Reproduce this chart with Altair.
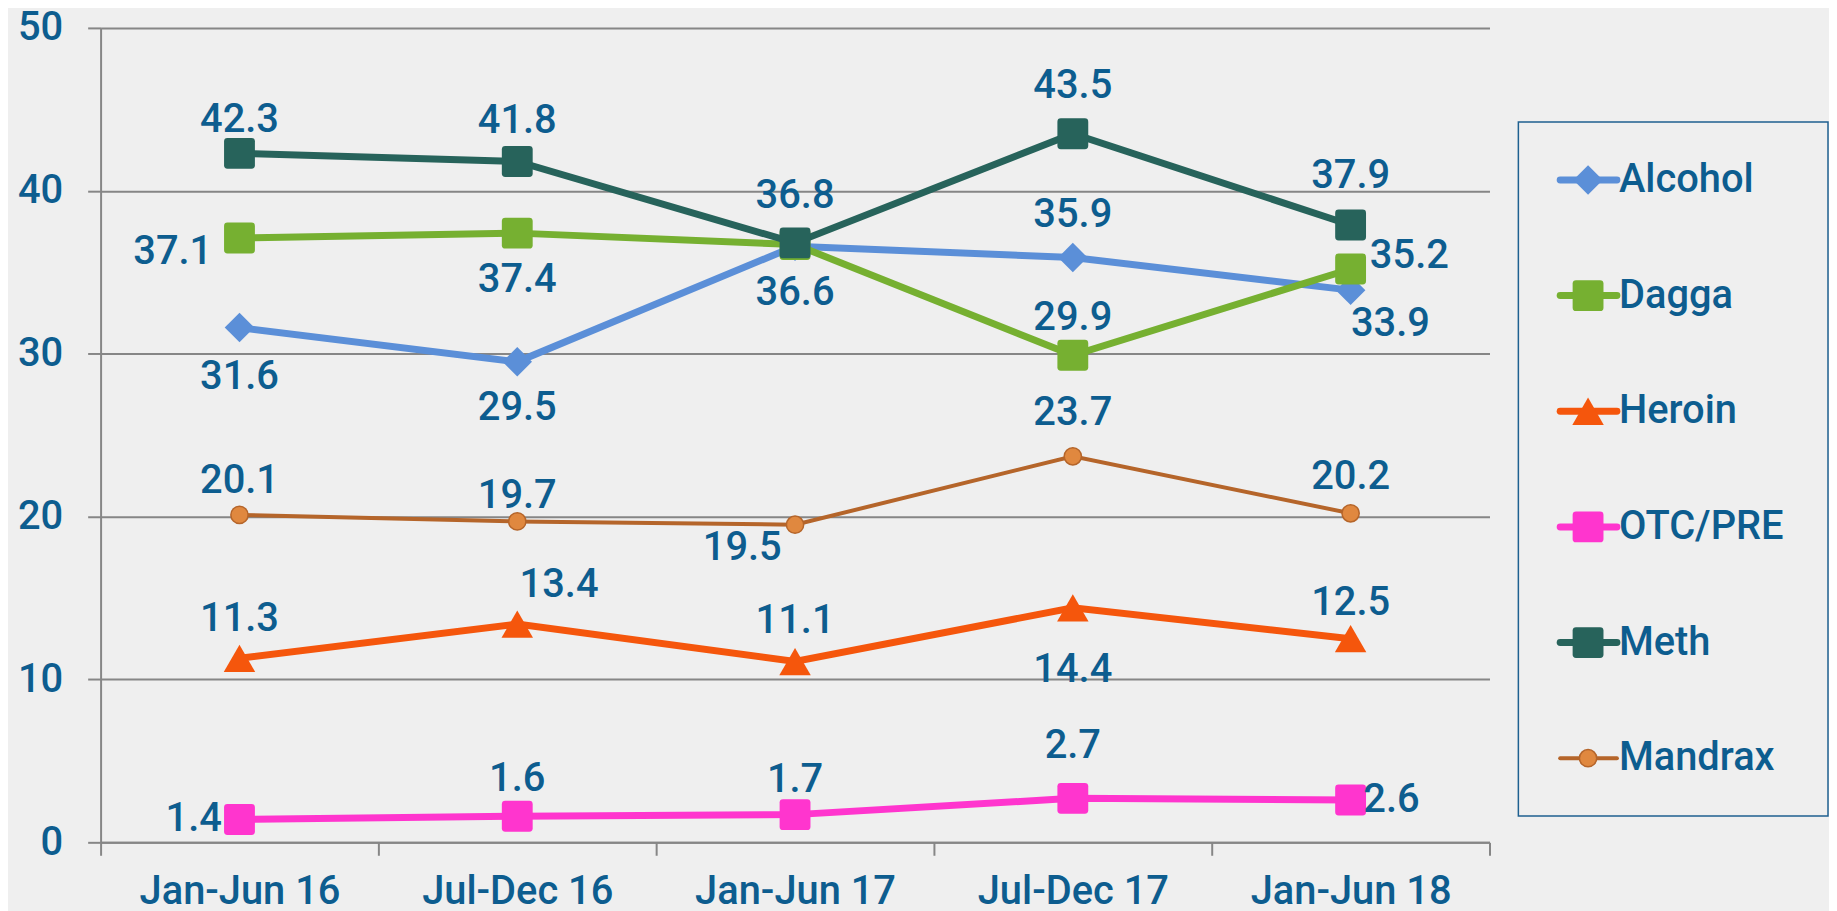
import altair as alt
import pandas as pd

# ---------------- data ----------------
periods = ["Jan-Jun 16", "Jul-Dec 16", "Jan-Jun 17", "Jul-Dec 17", "Jan-Jun 18"]
series_names = ["Alcohol", "Dagga", "Heroin", "OTC/PRE", "Meth", "Mandrax"]

alcohol = [31.6, 29.5, 36.6, 35.9, 33.9]
dagga = [37.1, 37.4, 36.7, 29.9, 35.2]
heroin = [11.3, 13.4, 11.1, 14.4, 12.5]
otc_pre = [1.4, 1.6, 1.7, 2.7, 2.6]
meth = [42.3, 41.8, 36.8, 43.5, 37.9]
mandrax = [20.1, 19.7, 19.5, 23.7, 20.2]

values = {
    "Alcohol": alcohol,
    "Dagga": dagga,
    "Heroin": heroin,
    "OTC/PRE": otc_pre,
    "Meth": meth,
    "Mandrax": mandrax,
}

rows = []
for s in series_names:
    for p, v in zip(periods, values[s]):
        rows.append({"series": s, "period": p, "value": v})
df = pd.DataFrame(rows)

# ---------------- styles ----------------
LABEL_COLOR = "#0D5D8F"
GRID_COLOR = "#868686"
BG = "#EFEFEF"
FONT = "Roboto"
FS = 40
FW = 500

ROUND_SQUARE = ("M -0.78 -1 L 0.78 -1 Q 1 -1 1 -0.78 L 1 0.78 Q 1 1 0.78 1 "
                "L -0.78 1 Q -1 1 -1 0.78 L -1 -0.78 Q -1 -1 -0.78 -1 Z")

styles = {
    "Alcohol": dict(color="#5B8FD8", shape="diamond", size=880, width=7),
    "Dagga": dict(color="#76B031", shape=ROUND_SQUARE, size=960, width=7),
    "Heroin": dict(color="#F5560C", shape="triangle-up", size=1000, width=7),
    "OTC/PRE": dict(color="#FF35CE", shape=ROUND_SQUARE, size=960, width=7),
    "Meth": dict(color="#27635B", shape=ROUND_SQUARE, size=960, width=7),
    "Mandrax": dict(color="#B5652A", shape="circle", size=300, width=4,
                    fill="#E0883F"),
}

# label offsets (dx, dy) in pixels relative to the point, None = no label
label_offsets = {
    "Alcohol": [(0, 50), (0, 46), (0, 47), (0, -43), (40, 34)],
    "Dagga": [(-67, 14), (0, 47), None, (0, -37), (59, -13)],
    "Heroin": [(0, -39), (42, -39), (0, -41), (0, 63), (0, -36)],
    "OTC/PRE": [(-46, 0), (0, -37), (0, -35), (0, -53), (41, 0)],
    "Meth": [(0, -33), (0, -41), (0, -47), (0, -48), (0, -49)],
    "Mandrax": [(0, -34), (0, -26), (-53, 23), (0, -43), (0, -36)],
}

x_enc = alt.X(
    "period:N",
    sort=periods,
    bandPosition=0.5,
    scale=alt.Scale(type="band", domain=periods, paddingInner=0, paddingOuter=0),
    axis=alt.Axis(
        title=None,
        tickBand="extent",
        labelFont=FONT,
        labelFontSize=FS,
        labelFontWeight=FW,
        labelColor=LABEL_COLOR,
        labelPadding=16,
        labelAngle=0,
        labelLimit=1000,
        tickSize=13,
        tickColor=GRID_COLOR,
        tickWidth=2,
        domainColor=GRID_COLOR,
        domainWidth=2,
        grid=False,
    ),
)
y_enc = alt.Y(
    "value:Q",
    scale=alt.Scale(domain=[0, 50], nice=False, zero=True),
    axis=alt.Axis(
        title=None,
        values=[0, 10, 20, 30, 40, 50],
        labelFont=FONT,
        labelFontSize=FS,
        labelFontWeight=FW,
        labelColor=LABEL_COLOR,
        labelPadding=25,
        tickSize=13,
        tickColor=GRID_COLOR,
        tickWidth=2,
        domainColor=GRID_COLOR,
        domainWidth=2,
        grid=True,
        gridColor=GRID_COLOR,
        gridWidth=2,
    ),
)

base = alt.Chart(df).encode(x=x_enc, y=y_enc)

layers = []
for s in series_names:
    st = styles[s]
    sub = base.transform_filter(alt.datum.series == s)
    layers.append(sub.mark_line(color=st["color"], strokeWidth=st["width"]))
    if s == "Mandrax":
        layers.append(sub.mark_point(shape=st["shape"], size=st["size"], filled=True,
                                     fill=st["fill"], stroke=st["color"], strokeWidth=1.5,
                                     opacity=1))
    else:
        layers.append(sub.mark_point(shape=st["shape"], size=st["size"], filled=True,
                                     color=st["color"], opacity=1))

for s in series_names:
    for p, off in zip(periods, label_offsets[s]):
        if off is None:
            continue
        layers.append(
            base.transform_filter((alt.datum.series == s) & (alt.datum.period == p))
            .mark_text(font=FONT, fontSize=FS, fontWeight=FW, color=LABEL_COLOR,
                       align="center", baseline="middle", dx=off[0], dy=off[1])
            .encode(text=alt.Text("value:Q", format=".1f"))
        )

main = alt.layer(*layers).properties(width=1395, height=818)

# ---------------- legend panel ----------------
leg_df = pd.DataFrame({"series": series_names})
leg_y = alt.Y("series:N", sort=series_names, axis=None,
              scale=alt.Scale(type="point", domain=series_names, padding=0.5))
leg_base = alt.Chart(leg_df).encode(y=leg_y)
leg_layers = []
for s in series_names:
    st = styles[s]
    sub = leg_base.transform_filter(alt.datum.series == s)
    leg_layers.append(sub.mark_rule(color=st["color"], strokeWidth=st["width"],
                                    strokeCap="round")
                      .encode(x=alt.value(42), x2=alt.value(99)))
    if s == "Mandrax":
        leg_layers.append(sub.mark_point(shape=st["shape"], size=st["size"], filled=True,
                                         fill=st["fill"], stroke=st["color"],
                                         strokeWidth=1.5, opacity=1)
                          .encode(x=alt.value(70)))
    else:
        leg_layers.append(sub.mark_point(shape=st["shape"], size=st["size"], filled=True,
                                         color=st["color"], opacity=1)
                          .encode(x=alt.value(70)))
leg_layers.append(
    leg_base.mark_text(font=FONT, fontSize=FS, fontWeight=FW, color=LABEL_COLOR,
                       align="left", baseline="middle")
    .encode(x=alt.value(101), text="series:N")
)
legend = alt.layer(*leg_layers).properties(
    width=311, height=697,
    view=alt.ViewBackground(stroke="#1F6090", strokeWidth=1.5, fill=None),
)

chart = (
    alt.hconcat(main, legend, spacing=27, center=True)
    .properties(padding={"left": 9, "top": -2, "right": 0, "bottom": 0})
    .configure(background=BG)
    .configure_view(stroke=None)
)

chart.save("out.html", embed_options={"renderer": "svg", "actions": False})
